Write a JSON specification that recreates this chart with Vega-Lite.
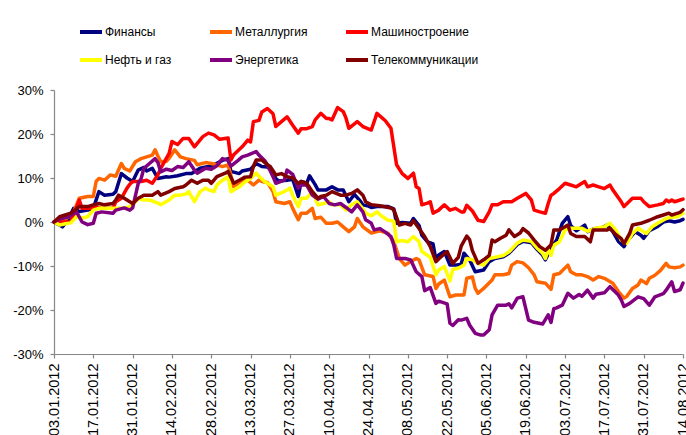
{
  "$schema": "https://vega.github.io/schema/vega-lite/v6.json",
  "width": 629,
  "height": 264,
  "autosize": {"type": "none"},
  "padding": {"left": 54, "top": 90, "right": 3, "bottom": 81},
  "background": "white",
  "config": {
    "view": {"stroke": null},
    "font": "Liberation Sans",
    "axis": {"grid": false, "domainColor": "#868686", "tickColor": "#868686", "domainWidth": 1.2, "tickWidth": 1.2, "labelColor": "#000000", "labelFont": "Liberation Sans", "title": null}
  },
  "data": {
    "format": {"parse": {"date": "date:'%Y-%m-%d'"}},
    "values": [
      {"date":"2012-01-03","series":"Финансы","value":0},
      {"date":"2012-01-06","series":"Финансы","value":-1.1},
      {"date":"2012-01-08","series":"Финансы","value":0.5},
      {"date":"2012-01-10","series":"Финансы","value":3.1},
      {"date":"2012-01-12","series":"Финансы","value":2.4},
      {"date":"2012-01-15","series":"Финансы","value":2.7},
      {"date":"2012-01-17","series":"Финансы","value":3.1},
      {"date":"2012-01-19","series":"Финансы","value":6.9},
      {"date":"2012-01-21","series":"Финансы","value":6.1},
      {"date":"2012-01-24","series":"Финансы","value":6.3},
      {"date":"2012-01-25","series":"Финансы","value":6.9},
      {"date":"2012-01-27","series":"Финансы","value":11},
      {"date":"2012-01-29","series":"Финансы","value":10},
      {"date":"2012-01-31","series":"Финансы","value":9.2},
      {"date":"2012-02-02","series":"Финансы","value":11.8},
      {"date":"2012-02-04","series":"Финансы","value":12.4},
      {"date":"2012-02-05","series":"Финансы","value":11.6},
      {"date":"2012-02-07","series":"Финансы","value":12.2},
      {"date":"2012-02-09","series":"Финансы","value":9.9},
      {"date":"2012-02-12","series":"Финансы","value":10.3},
      {"date":"2012-02-13","series":"Финансы","value":10.2},
      {"date":"2012-02-16","series":"Финансы","value":10.5},
      {"date":"2012-02-19","series":"Финансы","value":11},
      {"date":"2012-02-21","series":"Финансы","value":11},
      {"date":"2012-02-24","series":"Финансы","value":12.2},
      {"date":"2012-02-27","series":"Финансы","value":12.6},
      {"date":"2012-02-29","series":"Финансы","value":13},
      {"date":"2012-03-03","series":"Финансы","value":14},
      {"date":"2012-03-05","series":"Финансы","value":14.4},
      {"date":"2012-03-06","series":"Финансы","value":11.5},
      {"date":"2012-03-09","series":"Финансы","value":11},
      {"date":"2012-03-10","series":"Финансы","value":11.6},
      {"date":"2012-03-13","series":"Финансы","value":12},
      {"date":"2012-03-15","series":"Финансы","value":13.3},
      {"date":"2012-03-17","series":"Финансы","value":12.6},
      {"date":"2012-03-19","series":"Финансы","value":12.5},
      {"date":"2012-03-20","series":"Финансы","value":12},
      {"date":"2012-03-22","series":"Финансы","value":9.9},
      {"date":"2012-03-23","series":"Финансы","value":9.3},
      {"date":"2012-03-26","series":"Финансы","value":9.5},
      {"date":"2012-03-28","series":"Финансы","value":9.7},
      {"date":"2012-03-30","series":"Финансы","value":5.8},
      {"date":"2012-03-31","series":"Финансы","value":9.2},
      {"date":"2012-04-02","series":"Финансы","value":8.8},
      {"date":"2012-04-03","series":"Финансы","value":10.5},
      {"date":"2012-04-05","series":"Финансы","value":8.5},
      {"date":"2012-04-06","series":"Финансы","value":7.3},
      {"date":"2012-04-09","series":"Финансы","value":7.3},
      {"date":"2012-04-11","series":"Финансы","value":8},
      {"date":"2012-04-13","series":"Финансы","value":7.3},
      {"date":"2012-04-15","series":"Финансы","value":7.3},
      {"date":"2012-04-17","series":"Финансы","value":4.6},
      {"date":"2012-04-19","series":"Финансы","value":6.3},
      {"date":"2012-04-21","series":"Финансы","value":4.8},
      {"date":"2012-04-22","series":"Финансы","value":3.9},
      {"date":"2012-04-24","series":"Финансы","value":3.6},
      {"date":"2012-04-25","series":"Финансы","value":3.3},
      {"date":"2012-04-27","series":"Финансы","value":3.5},
      {"date":"2012-05-01","series":"Финансы","value":3.5},
      {"date":"2012-05-03","series":"Финансы","value":3},
      {"date":"2012-05-04","series":"Финансы","value":-0.3},
      {"date":"2012-05-06","series":"Финансы","value":-0.1},
      {"date":"2012-05-09","series":"Финансы","value":-0.3},
      {"date":"2012-05-10","series":"Финансы","value":0.8},
      {"date":"2012-05-12","series":"Финансы","value":-0.8},
      {"date":"2012-05-13","series":"Финансы","value":-3},
      {"date":"2012-05-15","series":"Финансы","value":-4.5},
      {"date":"2012-05-17","series":"Финансы","value":-5},
      {"date":"2012-05-18","series":"Финансы","value":-8.6},
      {"date":"2012-05-19","series":"Финансы","value":-7.5},
      {"date":"2012-05-21","series":"Финансы","value":-6.7},
      {"date":"2012-05-23","series":"Финансы","value":-9.8},
      {"date":"2012-05-25","series":"Финансы","value":-9.8},
      {"date":"2012-05-27","series":"Финансы","value":-9.6},
      {"date":"2012-05-28","series":"Финансы","value":-7.1},
      {"date":"2012-05-30","series":"Финансы","value":-8.6},
      {"date":"2012-06-01","series":"Финансы","value":-11.3},
      {"date":"2012-06-04","series":"Финансы","value":-10.9},
      {"date":"2012-06-06","series":"Финансы","value":-9},
      {"date":"2012-06-08","series":"Финансы","value":-8.3},
      {"date":"2012-06-11","series":"Финансы","value":-7.9},
      {"date":"2012-06-13","series":"Финансы","value":-7.1},
      {"date":"2012-06-16","series":"Финансы","value":-5.1},
      {"date":"2012-06-18","series":"Финансы","value":-4.4},
      {"date":"2012-06-21","series":"Финансы","value":-4.7},
      {"date":"2012-06-23","series":"Финансы","value":-6.2},
      {"date":"2012-06-25","series":"Финансы","value":-7.5},
      {"date":"2012-06-26","series":"Финансы","value":-8.6},
      {"date":"2012-06-28","series":"Финансы","value":-5.9},
      {"date":"2012-06-30","series":"Финансы","value":-4.1},
      {"date":"2012-07-02","series":"Финансы","value":-0.3},
      {"date":"2012-07-04","series":"Финансы","value":1.2},
      {"date":"2012-07-05","series":"Финансы","value":-0.8},
      {"date":"2012-07-07","series":"Финансы","value":-2},
      {"date":"2012-07-10","series":"Финансы","value":-0.7},
      {"date":"2012-07-11","series":"Финансы","value":-2.2},
      {"date":"2012-07-13","series":"Финансы","value":-1.6},
      {"date":"2012-07-16","series":"Финансы","value":-1.3},
      {"date":"2012-07-18","series":"Финансы","value":-0.7},
      {"date":"2012-07-20","series":"Финансы","value":-2.2},
      {"date":"2012-07-22","series":"Финансы","value":-4.4},
      {"date":"2012-07-24","series":"Финансы","value":-5.6},
      {"date":"2012-07-25","series":"Финансы","value":-4.4},
      {"date":"2012-07-28","series":"Финансы","value":-2.2},
      {"date":"2012-07-30","series":"Финансы","value":-3},
      {"date":"2012-07-31","series":"Финансы","value":-3.7},
      {"date":"2012-08-02","series":"Финансы","value":-2},
      {"date":"2012-08-05","series":"Финансы","value":-1},
      {"date":"2012-08-07","series":"Финансы","value":0},
      {"date":"2012-08-09","series":"Финансы","value":0.3},
      {"date":"2012-08-11","series":"Финансы","value":0},
      {"date":"2012-08-13","series":"Финансы","value":0.3},
      {"date":"2012-08-14","series":"Финансы","value":0.6},

      {"date":"2012-01-03","series":"Металлургия","value":0},
      {"date":"2012-01-06","series":"Металлургия","value":0},
      {"date":"2012-01-08","series":"Металлургия","value":1.1},
      {"date":"2012-01-10","series":"Металлургия","value":2.3},
      {"date":"2012-01-12","series":"Металлургия","value":5.4},
      {"date":"2012-01-15","series":"Металлургия","value":5.8},
      {"date":"2012-01-17","series":"Металлургия","value":5.8},
      {"date":"2012-01-18","series":"Металлургия","value":9.2},
      {"date":"2012-01-19","series":"Металлургия","value":9.9},
      {"date":"2012-01-21","series":"Металлургия","value":9.5},
      {"date":"2012-01-23","series":"Металлургия","value":10.7},
      {"date":"2012-01-25","series":"Металлургия","value":10.4},
      {"date":"2012-01-27","series":"Металлургия","value":13.3},
      {"date":"2012-01-28","series":"Металлургия","value":12.2},
      {"date":"2012-01-30","series":"Металлургия","value":11.6},
      {"date":"2012-02-01","series":"Металлургия","value":13.7},
      {"date":"2012-02-03","series":"Металлургия","value":14.4},
      {"date":"2012-02-05","series":"Металлургия","value":14.8},
      {"date":"2012-02-07","series":"Металлургия","value":15.2},
      {"date":"2012-02-08","series":"Металлургия","value":16.4},
      {"date":"2012-02-09","series":"Металлургия","value":15},
      {"date":"2012-02-10","series":"Металлургия","value":13.7},
      {"date":"2012-02-12","series":"Металлургия","value":13.8},
      {"date":"2012-02-13","series":"Металлургия","value":14.5},
      {"date":"2012-02-15","series":"Металлургия","value":16.4},
      {"date":"2012-02-17","series":"Металлургия","value":14.8},
      {"date":"2012-02-19","series":"Металлургия","value":14.4},
      {"date":"2012-02-22","series":"Металлургия","value":14},
      {"date":"2012-02-23","series":"Металлургия","value":13},
      {"date":"2012-02-26","series":"Металлургия","value":13.5},
      {"date":"2012-02-28","series":"Металлургия","value":13.3},
      {"date":"2012-03-01","series":"Металлургия","value":13},
      {"date":"2012-03-03","series":"Металлургия","value":12.6},
      {"date":"2012-03-05","series":"Металлургия","value":13},
      {"date":"2012-03-07","series":"Металлургия","value":8},
      {"date":"2012-03-08","series":"Металлургия","value":8.5},
      {"date":"2012-03-10","series":"Металлургия","value":9.5},
      {"date":"2012-03-12","series":"Металлургия","value":9.5},
      {"date":"2012-03-14","series":"Металлургия","value":8.4},
      {"date":"2012-03-16","series":"Металлургия","value":9.5},
      {"date":"2012-03-17","series":"Металлургия","value":9.2},
      {"date":"2012-03-19","series":"Металлургия","value":9},
      {"date":"2012-03-21","series":"Металлургия","value":6.9},
      {"date":"2012-03-22","series":"Металлургия","value":4.6},
      {"date":"2012-03-25","series":"Металлургия","value":4.2},
      {"date":"2012-03-27","series":"Металлургия","value":4.6},
      {"date":"2012-03-28","series":"Металлургия","value":3.1},
      {"date":"2012-03-30","series":"Металлургия","value":0.5},
      {"date":"2012-03-31","series":"Металлургия","value":2},
      {"date":"2012-04-02","series":"Металлургия","value":2},
      {"date":"2012-04-04","series":"Металлургия","value":3.1},
      {"date":"2012-04-05","series":"Металлургия","value":0.8},
      {"date":"2012-04-07","series":"Металлургия","value":1.1},
      {"date":"2012-04-09","series":"Металлургия","value":-0.3},
      {"date":"2012-04-11","series":"Металлургия","value":-0.3},
      {"date":"2012-04-13","series":"Металлургия","value":0},
      {"date":"2012-04-15","series":"Металлургия","value":-1.1},
      {"date":"2012-04-17","series":"Металлургия","value":-2.2},
      {"date":"2012-04-19","series":"Металлургия","value":-1.1},
      {"date":"2012-04-20","series":"Металлургия","value":0.8},
      {"date":"2012-04-22","series":"Металлургия","value":-1.1},
      {"date":"2012-04-25","series":"Металлургия","value":-2.5},
      {"date":"2012-04-28","series":"Металлургия","value":-2},
      {"date":"2012-05-01","series":"Металлургия","value":-2.6},
      {"date":"2012-05-03","series":"Металлургия","value":-4.5},
      {"date":"2012-05-05","series":"Металлургия","value":-8.3},
      {"date":"2012-05-07","series":"Металлургия","value":-9.8},
      {"date":"2012-05-09","series":"Металлургия","value":-9},
      {"date":"2012-05-11","series":"Металлургия","value":-8.3},
      {"date":"2012-05-12","series":"Металлургия","value":-8.6},
      {"date":"2012-05-14","series":"Металлургия","value":-12},
      {"date":"2012-05-17","series":"Металлургия","value":-12.4},
      {"date":"2012-05-18","series":"Металлургия","value":-15.1},
      {"date":"2012-05-19","series":"Металлургия","value":-14.1},
      {"date":"2012-05-21","series":"Металлургия","value":-13.2},
      {"date":"2012-05-23","series":"Металлургия","value":-17},
      {"date":"2012-05-25","series":"Металлургия","value":-16.6},
      {"date":"2012-05-28","series":"Металлургия","value":-16.6},
      {"date":"2012-05-29","series":"Металлургия","value":-12.8},
      {"date":"2012-05-31","series":"Металлургия","value":-12.5},
      {"date":"2012-06-01","series":"Металлургия","value":-15.1},
      {"date":"2012-06-02","series":"Металлургия","value":-16.2},
      {"date":"2012-06-04","series":"Металлургия","value":-15.1},
      {"date":"2012-06-07","series":"Металлургия","value":-13.2},
      {"date":"2012-06-08","series":"Металлургия","value":-12},
      {"date":"2012-06-11","series":"Металлургия","value":-12},
      {"date":"2012-06-13","series":"Металлургия","value":-11.7},
      {"date":"2012-06-14","series":"Металлургия","value":-9.8},
      {"date":"2012-06-16","series":"Металлургия","value":-9},
      {"date":"2012-06-18","series":"Металлургия","value":-9.3},
      {"date":"2012-06-20","series":"Металлургия","value":-10.4},
      {"date":"2012-06-22","series":"Металлургия","value":-12},
      {"date":"2012-06-23","series":"Металлургия","value":-13.6},
      {"date":"2012-06-26","series":"Металлургия","value":-13.9},
      {"date":"2012-06-28","series":"Металлургия","value":-15.3},
      {"date":"2012-06-29","series":"Металлургия","value":-12},
      {"date":"2012-07-01","series":"Металлургия","value":-11.7},
      {"date":"2012-07-04","series":"Металлургия","value":-9.8},
      {"date":"2012-07-05","series":"Металлургия","value":-11.3},
      {"date":"2012-07-07","series":"Металлургия","value":-12},
      {"date":"2012-07-09","series":"Металлургия","value":-12},
      {"date":"2012-07-11","series":"Металлургия","value":-12.4},
      {"date":"2012-07-13","series":"Металлургия","value":-13.2},
      {"date":"2012-07-15","series":"Металлургия","value":-12.4},
      {"date":"2012-07-17","series":"Металлургия","value":-12.8},
      {"date":"2012-07-20","series":"Металлургия","value":-13.9},
      {"date":"2012-07-22","series":"Металлургия","value":-15.8},
      {"date":"2012-07-24","series":"Металлургия","value":-17.3},
      {"date":"2012-07-25","series":"Металлургия","value":-16.9},
      {"date":"2012-07-27","series":"Металлургия","value":-15.1},
      {"date":"2012-07-29","series":"Металлургия","value":-14.3},
      {"date":"2012-07-30","series":"Металлургия","value":-13.2},
      {"date":"2012-08-01","series":"Металлургия","value":-14},
      {"date":"2012-08-02","series":"Металлургия","value":-12.8},
      {"date":"2012-08-04","series":"Металлургия","value":-12.1},
      {"date":"2012-08-06","series":"Металлургия","value":-11},
      {"date":"2012-08-08","series":"Металлургия","value":-9.4},
      {"date":"2012-08-09","series":"Металлургия","value":-10.2},
      {"date":"2012-08-11","series":"Металлургия","value":-10.4},
      {"date":"2012-08-13","series":"Металлургия","value":-10.2},
      {"date":"2012-08-14","series":"Металлургия","value":-9.8},

      {"date":"2012-01-03","series":"Машиностроение","value":0},
      {"date":"2012-01-06","series":"Машиностроение","value":0},
      {"date":"2012-01-09","series":"Машиностроение","value":0},
      {"date":"2012-01-10","series":"Машиностроение","value":1.5},
      {"date":"2012-01-12","series":"Машиностроение","value":5},
      {"date":"2012-01-13","series":"Машиностроение","value":3.1},
      {"date":"2012-01-16","series":"Машиностроение","value":3.1},
      {"date":"2012-01-18","series":"Машиностроение","value":3.4},
      {"date":"2012-01-20","series":"Машиностроение","value":3.1},
      {"date":"2012-01-24","series":"Машиностроение","value":3.1},
      {"date":"2012-01-25","series":"Машиностроение","value":4.6},
      {"date":"2012-01-27","series":"Машиностроение","value":5.4},
      {"date":"2012-01-29","series":"Машиностроение","value":7.7},
      {"date":"2012-01-30","series":"Машиностроение","value":8.6},
      {"date":"2012-01-31","series":"Машиностроение","value":9.2},
      {"date":"2012-02-03","series":"Машиностроение","value":9.2},
      {"date":"2012-02-05","series":"Машиностроение","value":9.5},
      {"date":"2012-02-07","series":"Машиностроение","value":8.8},
      {"date":"2012-02-09","series":"Машиностроение","value":10.7},
      {"date":"2012-02-10","series":"Машиностроение","value":12.2},
      {"date":"2012-02-13","series":"Машиностроение","value":15.6},
      {"date":"2012-02-14","series":"Машиностроение","value":18.3},
      {"date":"2012-02-16","series":"Машиностроение","value":17.6},
      {"date":"2012-02-18","series":"Машиностроение","value":19},
      {"date":"2012-02-20","series":"Машиностроение","value":19},
      {"date":"2012-02-22","series":"Машиностроение","value":17.1},
      {"date":"2012-02-25","series":"Машиностроение","value":19.4},
      {"date":"2012-02-27","series":"Машиностроение","value":20.2},
      {"date":"2012-02-29","series":"Машиностроение","value":19.8},
      {"date":"2012-03-02","series":"Машиностроение","value":18.8},
      {"date":"2012-03-05","series":"Машиностроение","value":19.1},
      {"date":"2012-03-06","series":"Машиностроение","value":14.1},
      {"date":"2012-03-07","series":"Машиностроение","value":15.3},
      {"date":"2012-03-10","series":"Машиностроение","value":17.1},
      {"date":"2012-03-12","series":"Машиностроение","value":18.6},
      {"date":"2012-03-13","series":"Машиностроение","value":18.2},
      {"date":"2012-03-14","series":"Машиностроение","value":22.8},
      {"date":"2012-03-16","series":"Машиностроение","value":23.1},
      {"date":"2012-03-17","series":"Машиностроение","value":25},
      {"date":"2012-03-19","series":"Машиностроение","value":25.8},
      {"date":"2012-03-21","series":"Машиностроение","value":24.6},
      {"date":"2012-03-22","series":"Машиностроение","value":21.7},
      {"date":"2012-03-24","series":"Машиностроение","value":22.8},
      {"date":"2012-03-26","series":"Машиностроение","value":23.9},
      {"date":"2012-03-28","series":"Машиностроение","value":22},
      {"date":"2012-03-30","series":"Машиностроение","value":20.2},
      {"date":"2012-03-31","series":"Машиностроение","value":21.2},
      {"date":"2012-04-02","series":"Машиностроение","value":21.2},
      {"date":"2012-04-04","series":"Машиностроение","value":21.7},
      {"date":"2012-04-05","series":"Машиностроение","value":23.2},
      {"date":"2012-04-07","series":"Машиностроение","value":24.7},
      {"date":"2012-04-09","series":"Машиностроение","value":23.5},
      {"date":"2012-04-10","series":"Машиностроение","value":23.5},
      {"date":"2012-04-11","series":"Машиностроение","value":23.2},
      {"date":"2012-04-13","series":"Машиностроение","value":26},
      {"date":"2012-04-15","series":"Машиностроение","value":25.1},
      {"date":"2012-04-16","series":"Машиностроение","value":23.6},
      {"date":"2012-04-17","series":"Машиностроение","value":21.3},
      {"date":"2012-04-20","series":"Машиностроение","value":22.8},
      {"date":"2012-04-22","series":"Машиностроение","value":21.7},
      {"date":"2012-04-25","series":"Машиностроение","value":20.9},
      {"date":"2012-04-27","series":"Машиностроение","value":24.7},
      {"date":"2012-04-30","series":"Машиностроение","value":23},
      {"date":"2012-05-02","series":"Машиностроение","value":21.3},
      {"date":"2012-05-04","series":"Машиностроение","value":13},
      {"date":"2012-05-06","series":"Машиностроение","value":11},
      {"date":"2012-05-08","series":"Машиностроение","value":9.9},
      {"date":"2012-05-10","series":"Машиностроение","value":11.1},
      {"date":"2012-05-11","series":"Машиностроение","value":8},
      {"date":"2012-05-12","series":"Машиностроение","value":7.6},
      {"date":"2012-05-13","series":"Машиностроение","value":3.9},
      {"date":"2012-05-15","series":"Машиностроение","value":4.3},
      {"date":"2012-05-16","series":"Машиностроение","value":4.6},
      {"date":"2012-05-17","series":"Машиностроение","value":2},
      {"date":"2012-05-19","series":"Машиностроение","value":2.7},
      {"date":"2012-05-21","series":"Машиностроение","value":3.9},
      {"date":"2012-05-23","series":"Машиностроение","value":2.7},
      {"date":"2012-05-25","series":"Машиностроение","value":3.1},
      {"date":"2012-05-27","series":"Машиностроение","value":2.3},
      {"date":"2012-05-28","series":"Машиностроение","value":2.3},
      {"date":"2012-05-29","series":"Машиностроение","value":3.8},
      {"date":"2012-05-31","series":"Машиностроение","value":2.5},
      {"date":"2012-06-02","series":"Машиностроение","value":0.4},
      {"date":"2012-06-04","series":"Машиностроение","value":0.1},
      {"date":"2012-06-06","series":"Машиностроение","value":2.3},
      {"date":"2012-06-07","series":"Машиностроение","value":3.9},
      {"date":"2012-06-09","series":"Машиностроение","value":3.9},
      {"date":"2012-06-11","series":"Машиностроение","value":4.6},
      {"date":"2012-06-14","series":"Машиностроение","value":4.6},
      {"date":"2012-06-16","series":"Машиностроение","value":5.4},
      {"date":"2012-06-19","series":"Машиностроение","value":6.5},
      {"date":"2012-06-21","series":"Машиностроение","value":5},
      {"date":"2012-06-22","series":"Машиностроение","value":2.7},
      {"date":"2012-06-24","series":"Машиностроение","value":2.3},
      {"date":"2012-06-26","series":"Машиностроение","value":2},
      {"date":"2012-06-27","series":"Машиностроение","value":4.2},
      {"date":"2012-06-28","series":"Машиностроение","value":6.1},
      {"date":"2012-06-29","series":"Машиностроение","value":6.5},
      {"date":"2012-07-01","series":"Машиностроение","value":7.6},
      {"date":"2012-07-03","series":"Машиностроение","value":8.8},
      {"date":"2012-07-05","series":"Машиностроение","value":8.4},
      {"date":"2012-07-07","series":"Машиностроение","value":8},
      {"date":"2012-07-09","series":"Машиностроение","value":8.8},
      {"date":"2012-07-10","series":"Машиностроение","value":9.2},
      {"date":"2012-07-11","series":"Машиностроение","value":8},
      {"date":"2012-07-13","series":"Машиностроение","value":8.4},
      {"date":"2012-07-15","series":"Машиностроение","value":8},
      {"date":"2012-07-17","series":"Машиностроение","value":7.6},
      {"date":"2012-07-19","series":"Машиностроение","value":8.4},
      {"date":"2012-07-20","series":"Машиностроение","value":7.3},
      {"date":"2012-07-23","series":"Машиностроение","value":4.6},
      {"date":"2012-07-24","series":"Машиностроение","value":3.5},
      {"date":"2012-07-27","series":"Машиностроение","value":5.4},
      {"date":"2012-07-30","series":"Машиностроение","value":5.4},
      {"date":"2012-07-31","series":"Машиностроение","value":4.6},
      {"date":"2012-08-02","series":"Машиностроение","value":3.5},
      {"date":"2012-08-05","series":"Машиностроение","value":3.9},
      {"date":"2012-08-07","series":"Машиностроение","value":4.2},
      {"date":"2012-08-08","series":"Машиностроение","value":5},
      {"date":"2012-08-09","series":"Машиностроение","value":4.6},
      {"date":"2012-08-10","series":"Машиностроение","value":5},
      {"date":"2012-08-11","series":"Машиностроение","value":4.6},
      {"date":"2012-08-13","series":"Машиностроение","value":5},
      {"date":"2012-08-14","series":"Машиностроение","value":5.2},

      {"date":"2012-01-03","series":"Нефть и газ","value":0},
      {"date":"2012-01-05","series":"Нефть и газ","value":-0.7},
      {"date":"2012-01-07","series":"Нефть и газ","value":-0.4},
      {"date":"2012-01-09","series":"Нефть и газ","value":-0.2},
      {"date":"2012-01-11","series":"Нефть и газ","value":1.2},
      {"date":"2012-01-13","series":"Нефть и газ","value":0.9},
      {"date":"2012-01-15","series":"Нефть и газ","value":1.2},
      {"date":"2012-01-17","series":"Нефть и газ","value":2.7},
      {"date":"2012-01-19","series":"Нефть и газ","value":3.1},
      {"date":"2012-01-23","series":"Нефть и газ","value":3.1},
      {"date":"2012-01-26","series":"Нефть и газ","value":3.1},
      {"date":"2012-01-28","series":"Нефть и газ","value":3.1},
      {"date":"2012-01-31","series":"Нефть и газ","value":3.8},
      {"date":"2012-02-02","series":"Нефть и газ","value":5.4},
      {"date":"2012-02-04","series":"Нефть и газ","value":5},
      {"date":"2012-02-06","series":"Нефть и газ","value":5},
      {"date":"2012-02-09","series":"Нефть и газ","value":4.3},
      {"date":"2012-02-10","series":"Нефть и газ","value":3.9},
      {"date":"2012-02-13","series":"Нефть и газ","value":5},
      {"date":"2012-02-15","series":"Нефть и газ","value":6.1},
      {"date":"2012-02-17","series":"Нефть и газ","value":6.1},
      {"date":"2012-02-19","series":"Нефть и газ","value":6.4},
      {"date":"2012-02-20","series":"Нефть и газ","value":6.9},
      {"date":"2012-02-22","series":"Нефть и газ","value":4.6},
      {"date":"2012-02-24","series":"Нефть и газ","value":6.9},
      {"date":"2012-02-26","series":"Нефть и газ","value":7.7},
      {"date":"2012-02-27","series":"Нефть и газ","value":7.3},
      {"date":"2012-02-29","series":"Нефть и газ","value":6.9},
      {"date":"2012-03-01","series":"Нефть и газ","value":8.4},
      {"date":"2012-03-03","series":"Нефть и газ","value":9.5},
      {"date":"2012-03-05","series":"Нефть и газ","value":10.3},
      {"date":"2012-03-06","series":"Нефть и газ","value":6.9},
      {"date":"2012-03-09","series":"Нефть и газ","value":8},
      {"date":"2012-03-11","series":"Нефть и газ","value":9.1},
      {"date":"2012-03-13","series":"Нефть и газ","value":9.9},
      {"date":"2012-03-15","series":"Нефть и газ","value":11.1},
      {"date":"2012-03-16","series":"Нефть и газ","value":10.4},
      {"date":"2012-03-18","series":"Нефть и газ","value":9.2},
      {"date":"2012-03-21","series":"Нефть и газ","value":8},
      {"date":"2012-03-22","series":"Нефть и газ","value":6.1},
      {"date":"2012-03-25","series":"Нефть и газ","value":6.9},
      {"date":"2012-03-27","series":"Нефть и газ","value":7.7},
      {"date":"2012-03-28","series":"Нефть и газ","value":6.1},
      {"date":"2012-03-30","series":"Нефть и газ","value":3.5},
      {"date":"2012-03-31","series":"Нефть и газ","value":5.4},
      {"date":"2012-04-02","series":"Нефть и газ","value":5.4},
      {"date":"2012-04-04","series":"Нефть и газ","value":6.9},
      {"date":"2012-04-06","series":"Нефть и газ","value":3.9},
      {"date":"2012-04-08","series":"Нефть и газ","value":4.2},
      {"date":"2012-04-10","series":"Нефть и газ","value":4.6},
      {"date":"2012-04-11","series":"Нефть и газ","value":3.9},
      {"date":"2012-04-14","series":"Нефть и газ","value":3.9},
      {"date":"2012-04-16","series":"Нефть и газ","value":2.7},
      {"date":"2012-04-18","series":"Нефть и газ","value":3.9},
      {"date":"2012-04-20","series":"Нефть и газ","value":4.6},
      {"date":"2012-04-22","series":"Нефть и газ","value":3},
      {"date":"2012-04-23","series":"Нефть и газ","value":2},
      {"date":"2012-04-25","series":"Нефть и газ","value":1.4},
      {"date":"2012-04-27","series":"Нефть и газ","value":2.3},
      {"date":"2012-04-29","series":"Нефть и газ","value":1.2},
      {"date":"2012-05-01","series":"Нефть и газ","value":0.4},
      {"date":"2012-05-03","series":"Нефть и газ","value":0.2},
      {"date":"2012-05-04","series":"Нефть и газ","value":-4.5},
      {"date":"2012-05-06","series":"Нефть и газ","value":-4.2},
      {"date":"2012-05-08","series":"Нефть и газ","value":-4.5},
      {"date":"2012-05-10","series":"Нефть и газ","value":-3.3},
      {"date":"2012-05-12","series":"Нефть и газ","value":-4.5},
      {"date":"2012-05-13","series":"Нефть и газ","value":-6.7},
      {"date":"2012-05-16","series":"Нефть и газ","value":-8},
      {"date":"2012-05-18","series":"Нефть и газ","value":-12},
      {"date":"2012-05-19","series":"Нефть и газ","value":-10.9},
      {"date":"2012-05-21","series":"Нефть и газ","value":-10.1},
      {"date":"2012-05-23","series":"Нефть и газ","value":-13.4},
      {"date":"2012-05-24","series":"Нефть и газ","value":-10.8},
      {"date":"2012-05-26","series":"Нефть и газ","value":-10.5},
      {"date":"2012-05-28","series":"Нефть и газ","value":-9.8},
      {"date":"2012-05-29","series":"Нефть и газ","value":-8.3},
      {"date":"2012-05-31","series":"Нефть и газ","value":-8.6},
      {"date":"2012-06-02","series":"Нефть и газ","value":-9.4},
      {"date":"2012-06-04","series":"Нефть и газ","value":-9.8},
      {"date":"2012-06-06","series":"Нефть и газ","value":-8.3},
      {"date":"2012-06-09","series":"Нефть и газ","value":-7.9},
      {"date":"2012-06-11","series":"Нефть и газ","value":-7.6},
      {"date":"2012-06-13","series":"Нефть и газ","value":-6.8},
      {"date":"2012-06-16","series":"Нефть и газ","value":-4.8},
      {"date":"2012-06-18","series":"Нефть и газ","value":-4.1},
      {"date":"2012-06-21","series":"Нефть и газ","value":-4.4},
      {"date":"2012-06-23","series":"Нефть и газ","value":-5.9},
      {"date":"2012-06-25","series":"Нефть и газ","value":-7.1},
      {"date":"2012-06-26","series":"Нефть и газ","value":-8.3},
      {"date":"2012-06-27","series":"Нефть и газ","value":-6.1},
      {"date":"2012-06-28","series":"Нефть и газ","value":-7.6},
      {"date":"2012-06-29","series":"Нефть и газ","value":-5.3},
      {"date":"2012-07-01","series":"Нефть и газ","value":-4.5},
      {"date":"2012-07-03","series":"Нефть и газ","value":-1.8},
      {"date":"2012-07-05","series":"Нефть и газ","value":-1.4},
      {"date":"2012-07-07","series":"Нефть и газ","value":-1.4},
      {"date":"2012-07-09","series":"Нефть и газ","value":-1.4},
      {"date":"2012-07-11","series":"Нефть и газ","value":-2.1},
      {"date":"2012-07-14","series":"Нефть и газ","value":-1.4},
      {"date":"2012-07-17","series":"Нефть и газ","value":-1.1},
      {"date":"2012-07-19","series":"Нефть и газ","value":-0.3},
      {"date":"2012-07-21","series":"Нефть и газ","value":-1.8},
      {"date":"2012-07-23","series":"Нефть и газ","value":-4.1},
      {"date":"2012-07-25","series":"Нефть и газ","value":-4.8},
      {"date":"2012-07-27","series":"Нефть и газ","value":-2.6},
      {"date":"2012-07-29","series":"Нефть и газ","value":-1.4},
      {"date":"2012-07-30","series":"Нефть и газ","value":-1.8},
      {"date":"2012-08-01","series":"Нефть и газ","value":-2.6},
      {"date":"2012-08-03","series":"Нефть и газ","value":-1.1},
      {"date":"2012-08-05","series":"Нефть и газ","value":-0.3},
      {"date":"2012-08-08","series":"Нефть и газ","value":0.8},
      {"date":"2012-08-10","series":"Нефть и газ","value":1.1},
      {"date":"2012-08-12","series":"Нефть и газ","value":1.2},
      {"date":"2012-08-14","series":"Нефть и газ","value":2},

      {"date":"2012-01-03","series":"Энергетика","value":0},
      {"date":"2012-01-05","series":"Энергетика","value":0.7},
      {"date":"2012-01-08","series":"Энергетика","value":1.1},
      {"date":"2012-01-09","series":"Энергетика","value":1.6},
      {"date":"2012-01-11","series":"Энергетика","value":2.3},
      {"date":"2012-01-13","series":"Энергетика","value":0},
      {"date":"2012-01-15","series":"Энергетика","value":-0.6},
      {"date":"2012-01-17","series":"Энергетика","value":-0.3},
      {"date":"2012-01-18","series":"Энергетика","value":2},
      {"date":"2012-01-20","series":"Энергетика","value":2.3},
      {"date":"2012-01-24","series":"Энергетика","value":2},
      {"date":"2012-01-25","series":"Энергетика","value":2.7},
      {"date":"2012-01-28","series":"Энергетика","value":3.2},
      {"date":"2012-01-30","series":"Энергетика","value":2.7},
      {"date":"2012-01-31","series":"Энергетика","value":3.2},
      {"date":"2012-02-02","series":"Энергетика","value":8.8},
      {"date":"2012-02-03","series":"Энергетика","value":9.8},
      {"date":"2012-02-04","series":"Энергетика","value":12.2},
      {"date":"2012-02-06","series":"Энергетика","value":13.3},
      {"date":"2012-02-08","series":"Энергетика","value":14.4},
      {"date":"2012-02-09","series":"Энергетика","value":13.5},
      {"date":"2012-02-10","series":"Энергетика","value":11.4},
      {"date":"2012-02-12","series":"Энергетика","value":12},
      {"date":"2012-02-14","series":"Энергетика","value":11.7},
      {"date":"2012-02-16","series":"Энергетика","value":12.6},
      {"date":"2012-02-18","series":"Энергетика","value":12.4},
      {"date":"2012-02-20","series":"Энергетика","value":13.7},
      {"date":"2012-02-22","series":"Энергетика","value":11.8},
      {"date":"2012-02-23","series":"Энергетика","value":11.1},
      {"date":"2012-02-26","series":"Энергетика","value":12.2},
      {"date":"2012-02-28","series":"Энергетика","value":12},
      {"date":"2012-03-01","series":"Энергетика","value":12.8},
      {"date":"2012-03-03","series":"Энергетика","value":14.4},
      {"date":"2012-03-05","series":"Энергетика","value":14},
      {"date":"2012-03-06","series":"Энергетика","value":12.7},
      {"date":"2012-03-08","series":"Энергетика","value":13.7},
      {"date":"2012-03-10","series":"Энергетика","value":14.8},
      {"date":"2012-03-12","series":"Энергетика","value":15.2},
      {"date":"2012-03-15","series":"Энергетика","value":16},
      {"date":"2012-03-16","series":"Энергетика","value":15.2},
      {"date":"2012-03-18","series":"Энергетика","value":14},
      {"date":"2012-03-19","series":"Энергетика","value":13},
      {"date":"2012-03-21","series":"Энергетика","value":10.3},
      {"date":"2012-03-22","series":"Энергетика","value":8.8},
      {"date":"2012-03-25","series":"Энергетика","value":9.5},
      {"date":"2012-03-26","series":"Энергетика","value":11.8},
      {"date":"2012-03-28","series":"Энергетика","value":10.8},
      {"date":"2012-03-30","series":"Энергетика","value":7.7},
      {"date":"2012-03-31","series":"Энергетика","value":8.4},
      {"date":"2012-04-02","series":"Энергетика","value":8.4},
      {"date":"2012-04-04","series":"Энергетика","value":6.1},
      {"date":"2012-04-06","series":"Энергетика","value":5.2},
      {"date":"2012-04-08","series":"Энергетика","value":5.8},
      {"date":"2012-04-10","series":"Энергетика","value":4.2},
      {"date":"2012-04-12","series":"Энергетика","value":3.9},
      {"date":"2012-04-14","series":"Энергетика","value":4.2},
      {"date":"2012-04-16","series":"Энергетика","value":3.3},
      {"date":"2012-04-18","series":"Энергетика","value":2.3},
      {"date":"2012-04-20","series":"Энергетика","value":3.9},
      {"date":"2012-04-22","series":"Энергетика","value":2.3},
      {"date":"2012-04-23","series":"Энергетика","value":0.5},
      {"date":"2012-04-25","series":"Энергетика","value":-0.3},
      {"date":"2012-04-26","series":"Энергетика","value":-1.8},
      {"date":"2012-04-28","series":"Энергетика","value":-1.5},
      {"date":"2012-04-30","series":"Энергетика","value":-2.3},
      {"date":"2012-05-02","series":"Энергетика","value":-3.3},
      {"date":"2012-05-03","series":"Энергетика","value":-5.2},
      {"date":"2012-05-04","series":"Энергетика","value":-8.3},
      {"date":"2012-05-07","series":"Энергетика","value":-8.3},
      {"date":"2012-05-09","series":"Энергетика","value":-8.6},
      {"date":"2012-05-11","series":"Энергетика","value":-11.3},
      {"date":"2012-05-13","series":"Энергетика","value":-12.4},
      {"date":"2012-05-14","series":"Энергетика","value":-15.6},
      {"date":"2012-05-16","series":"Энергетика","value":-14.9},
      {"date":"2012-05-18","series":"Энергетика","value":-18.5},
      {"date":"2012-05-19","series":"Энергетика","value":-18},
      {"date":"2012-05-22","series":"Энергетика","value":-18.6},
      {"date":"2012-05-23","series":"Энергетика","value":-23},
      {"date":"2012-05-24","series":"Энергетика","value":-23.5},
      {"date":"2012-05-26","series":"Энергетика","value":-22.2},
      {"date":"2012-05-27","series":"Энергетика","value":-22.3},
      {"date":"2012-05-29","series":"Энергетика","value":-21.9},
      {"date":"2012-05-30","series":"Энергетика","value":-23.4},
      {"date":"2012-06-01","series":"Энергетика","value":-25.3},
      {"date":"2012-06-03","series":"Энергетика","value":-25.7},
      {"date":"2012-06-04","series":"Энергетика","value":-25.7},
      {"date":"2012-06-06","series":"Энергетика","value":-24.5},
      {"date":"2012-06-07","series":"Энергетика","value":-21.1},
      {"date":"2012-06-09","series":"Энергетика","value":-18.9},
      {"date":"2012-06-12","series":"Энергетика","value":-18.9},
      {"date":"2012-06-13","series":"Энергетика","value":-18.6},
      {"date":"2012-06-14","series":"Энергетика","value":-19.5},
      {"date":"2012-06-16","series":"Энергетика","value":-17.3},
      {"date":"2012-06-18","series":"Энергетика","value":-17},
      {"date":"2012-06-20","series":"Энергетика","value":-22.3},
      {"date":"2012-06-22","series":"Энергетика","value":-22.8},
      {"date":"2012-06-25","series":"Энергетика","value":-23.2},
      {"date":"2012-06-27","series":"Энергетика","value":-21.1},
      {"date":"2012-06-28","series":"Энергетика","value":-22.8},
      {"date":"2012-06-29","series":"Энергетика","value":-19.7},
      {"date":"2012-06-30","series":"Энергетика","value":-19.5},
      {"date":"2012-07-02","series":"Энергетика","value":-18.9},
      {"date":"2012-07-04","series":"Энергетика","value":-16.2},
      {"date":"2012-07-06","series":"Энергетика","value":-17.3},
      {"date":"2012-07-08","series":"Энергетика","value":-16.5},
      {"date":"2012-07-09","series":"Энергетика","value":-16.9},
      {"date":"2012-07-11","series":"Энергетика","value":-15.5},
      {"date":"2012-07-13","series":"Энергетика","value":-17.3},
      {"date":"2012-07-14","series":"Энергетика","value":-16.4},
      {"date":"2012-07-17","series":"Энергетика","value":-16.1},
      {"date":"2012-07-19","series":"Энергетика","value":-14.7},
      {"date":"2012-07-22","series":"Энергетика","value":-16.6},
      {"date":"2012-07-23","series":"Энергетика","value":-17.7},
      {"date":"2012-07-24","series":"Энергетика","value":-19.2},
      {"date":"2012-07-26","series":"Энергетика","value":-18.5},
      {"date":"2012-07-29","series":"Энергетика","value":-17},
      {"date":"2012-07-31","series":"Энергетика","value":-17.4},
      {"date":"2012-08-02","series":"Энергетика","value":-18.9},
      {"date":"2012-08-04","series":"Энергетика","value":-17},
      {"date":"2012-08-07","series":"Энергетика","value":-16.3},
      {"date":"2012-08-08","series":"Энергетика","value":-15.5},
      {"date":"2012-08-10","series":"Энергетика","value":-13.6},
      {"date":"2012-08-11","series":"Энергетика","value":-15.8},
      {"date":"2012-08-13","series":"Энергетика","value":-15.4},
      {"date":"2012-08-14","series":"Энергетика","value":-13.9},

      {"date":"2012-01-03","series":"Телекоммуникации","value":0},
      {"date":"2012-01-05","series":"Телекоммуникации","value":1.2},
      {"date":"2012-01-07","series":"Телекоммуникации","value":1.6},
      {"date":"2012-01-09","series":"Телекоммуникации","value":2},
      {"date":"2012-01-12","series":"Телекоммуникации","value":3.5},
      {"date":"2012-01-15","series":"Телекоммуникации","value":3.5},
      {"date":"2012-01-17","series":"Телекоммуникации","value":3.9},
      {"date":"2012-01-19","series":"Телекоммуникации","value":4.2},
      {"date":"2012-01-21","series":"Телекоммуникации","value":3.9},
      {"date":"2012-01-24","series":"Телекоммуникации","value":4.2},
      {"date":"2012-01-25","series":"Телекоммуникации","value":5},
      {"date":"2012-01-26","series":"Телекоммуникации","value":6.1},
      {"date":"2012-01-28","series":"Телекоммуникации","value":5.4},
      {"date":"2012-01-31","series":"Телекоммуникации","value":4.2},
      {"date":"2012-02-02","series":"Телекоммуникации","value":5.4},
      {"date":"2012-02-04","series":"Телекоммуникации","value":6.1},
      {"date":"2012-02-07","series":"Телекоммуникации","value":6.1},
      {"date":"2012-02-09","series":"Телекоммуникации","value":6.9},
      {"date":"2012-02-10","series":"Телекоммуникации","value":6.1},
      {"date":"2012-02-13","series":"Телекоммуникации","value":6.9},
      {"date":"2012-02-15","series":"Телекоммуникации","value":7.6},
      {"date":"2012-02-18","series":"Телекоммуникации","value":8},
      {"date":"2012-02-19","series":"Телекоммуникации","value":8.4},
      {"date":"2012-02-21","series":"Телекоммуникации","value":9.5},
      {"date":"2012-02-23","series":"Телекоммуникации","value":8.8},
      {"date":"2012-02-25","series":"Телекоммуникации","value":9.5},
      {"date":"2012-02-27","series":"Телекоммуникации","value":9.5},
      {"date":"2012-02-28","series":"Телекоммуникации","value":8.8},
      {"date":"2012-03-01","series":"Телекоммуникации","value":10.3},
      {"date":"2012-03-04","series":"Телекоммуникации","value":11.1},
      {"date":"2012-03-05","series":"Телекоммуникации","value":11.5},
      {"date":"2012-03-07","series":"Телекоммуникации","value":8.8},
      {"date":"2012-03-09","series":"Телекоммуникации","value":9.5},
      {"date":"2012-03-11","series":"Телекоммуникации","value":10.2},
      {"date":"2012-03-13","series":"Телекоммуникации","value":10.3},
      {"date":"2012-03-14","series":"Телекоммуникации","value":12.6},
      {"date":"2012-03-15","series":"Телекоммуникации","value":14.1},
      {"date":"2012-03-17","series":"Телекоммуникации","value":14.1},
      {"date":"2012-03-19","series":"Телекоммуникации","value":13},
      {"date":"2012-03-20","series":"Телекоммуникации","value":12.6},
      {"date":"2012-03-22","series":"Телекоммуникации","value":10.7},
      {"date":"2012-03-24","series":"Телекоммуникации","value":11},
      {"date":"2012-03-26","series":"Телекоммуникации","value":10.3},
      {"date":"2012-03-28","series":"Телекоммуникации","value":10},
      {"date":"2012-03-30","series":"Телекоммуникации","value":8.8},
      {"date":"2012-03-31","series":"Телекоммуникации","value":9.2},
      {"date":"2012-04-02","series":"Телекоммуникации","value":8.8},
      {"date":"2012-04-04","series":"Телекоммуникации","value":6.9},
      {"date":"2012-04-06","series":"Телекоммуникации","value":5.4},
      {"date":"2012-04-07","series":"Телекоммуникации","value":5.8},
      {"date":"2012-04-09","series":"Телекоммуникации","value":6.1},
      {"date":"2012-04-11","series":"Телекоммуникации","value":6.9},
      {"date":"2012-04-14","series":"Телекоммуникации","value":6.1},
      {"date":"2012-04-16","series":"Телекоммуникации","value":6.1},
      {"date":"2012-04-18","series":"Телекоммуникации","value":6.5},
      {"date":"2012-04-20","series":"Телекоммуникации","value":7.3},
      {"date":"2012-04-22","series":"Телекоммуникации","value":6.1},
      {"date":"2012-04-23","series":"Телекоммуникации","value":4.6},
      {"date":"2012-04-25","series":"Телекоммуникации","value":3.9},
      {"date":"2012-04-28","series":"Телекоммуникации","value":3.7},
      {"date":"2012-05-02","series":"Телекоммуникации","value":3.2},
      {"date":"2012-05-03","series":"Телекоммуникации","value":2.8},
      {"date":"2012-05-05","series":"Телекоммуникации","value":-0.7},
      {"date":"2012-05-07","series":"Телекоммуникации","value":-0.3},
      {"date":"2012-05-09","series":"Телекоммуникации","value":-0.7},
      {"date":"2012-05-10","series":"Телекоммуникации","value":0.3},
      {"date":"2012-05-12","series":"Телекоммуникации","value":-1.5},
      {"date":"2012-05-14","series":"Телекоммуникации","value":-3.3},
      {"date":"2012-05-16","series":"Телекоммуникации","value":-5.6},
      {"date":"2012-05-18","series":"Телекоммуникации","value":-9},
      {"date":"2012-05-20","series":"Телекоммуникации","value":-7.8},
      {"date":"2012-05-22","series":"Телекоммуникации","value":-6.7},
      {"date":"2012-05-24","series":"Телекоммуникации","value":-9.4},
      {"date":"2012-05-26","series":"Телекоммуникации","value":-8},
      {"date":"2012-05-27","series":"Телекоммуникации","value":-5.5},
      {"date":"2012-05-29","series":"Телекоммуникации","value":-3.2},
      {"date":"2012-05-30","series":"Телекоммуникации","value":-4},
      {"date":"2012-05-31","series":"Телекоммуникации","value":-6.5},
      {"date":"2012-06-02","series":"Телекоммуникации","value":-9.4},
      {"date":"2012-06-04","series":"Телекоммуникации","value":-8.6},
      {"date":"2012-06-06","series":"Телекоммуникации","value":-7.6},
      {"date":"2012-06-07","series":"Телекоммуникации","value":-4.1},
      {"date":"2012-06-08","series":"Телекоммуникации","value":-4.5},
      {"date":"2012-06-10","series":"Телекоммуникации","value":-3.7},
      {"date":"2012-06-12","series":"Телекоммуникации","value":-3},
      {"date":"2012-06-13","series":"Телекоммуникации","value":-1.8},
      {"date":"2012-06-15","series":"Телекоммуникации","value":-3.3},
      {"date":"2012-06-17","series":"Телекоммуникации","value":-2.5},
      {"date":"2012-06-18","series":"Телекоммуникации","value":-1.5},
      {"date":"2012-06-20","series":"Телекоммуникации","value":-2.5},
      {"date":"2012-06-22","series":"Телекоммуникации","value":-4.1},
      {"date":"2012-06-24","series":"Телекоммуникации","value":-5.6},
      {"date":"2012-06-26","series":"Телекоммуникации","value":-6.4},
      {"date":"2012-06-28","series":"Телекоммуникации","value":-5.2},
      {"date":"2012-06-29","series":"Телекоммуникации","value":-1.8},
      {"date":"2012-07-01","series":"Телекоммуникации","value":-1.8},
      {"date":"2012-07-03","series":"Телекоммуникации","value":-1.1},
      {"date":"2012-07-04","series":"Телекоммуникации","value":-0.7},
      {"date":"2012-07-05","series":"Телекоммуникации","value":-2.6},
      {"date":"2012-07-07","series":"Телекоммуникации","value":-3.3},
      {"date":"2012-07-10","series":"Телекоммуникации","value":-3.3},
      {"date":"2012-07-12","series":"Телекоммуникации","value":-4.5},
      {"date":"2012-07-13","series":"Телекоммуникации","value":-1.8},
      {"date":"2012-07-15","series":"Телекоммуникации","value":-1.8},
      {"date":"2012-07-18","series":"Телекоммуникации","value":-1.8},
      {"date":"2012-07-19","series":"Телекоммуникации","value":-1.4},
      {"date":"2012-07-21","series":"Телекоммуникации","value":-2.8},
      {"date":"2012-07-23","series":"Телекоммуникации","value":-3.8},
      {"date":"2012-07-24","series":"Телекоммуникации","value":-4.9},
      {"date":"2012-07-26","series":"Телекоммуникации","value":-2.6},
      {"date":"2012-07-27","series":"Телекоммуникации","value":-0.7},
      {"date":"2012-07-30","series":"Телекоммуникации","value":-0.3},
      {"date":"2012-08-02","series":"Телекоммуникации","value":0.4},
      {"date":"2012-08-05","series":"Телекоммуникации","value":1.2},
      {"date":"2012-08-07","series":"Телекоммуникации","value":1.6},
      {"date":"2012-08-09","series":"Телекоммуникации","value":2},
      {"date":"2012-08-10","series":"Телекоммуникации","value":1.6},
      {"date":"2012-08-11","series":"Телекоммуникации","value":1.8},
      {"date":"2012-08-13","series":"Телекоммуникации","value":2.2},
      {"date":"2012-08-14","series":"Телекоммуникации","value":2.8}
    ]
  },
  "mark": {"type": "line", "strokeWidth": 3.5, "strokeJoin": "round", "strokeCap": "round", "clip": false},
  "encoding": {
    "x": {
      "field": "date",
      "type": "temporal",
      "scale": {"domain": [{"year": 2012, "month": 1, "date": 3}, {"year": 2012, "month": 8, "date": 14}]},
      "axis": {
        "values": [
          {"year": 2012, "month": 1, "date": 3}, {"year": 2012, "month": 1, "date": 17}, {"year": 2012, "month": 1, "date": 31},
          {"year": 2012, "month": 2, "date": 14}, {"year": 2012, "month": 2, "date": 28}, {"year": 2012, "month": 3, "date": 13},
          {"year": 2012, "month": 3, "date": 27}, {"year": 2012, "month": 4, "date": 10}, {"year": 2012, "month": 4, "date": 24},
          {"year": 2012, "month": 5, "date": 8}, {"year": 2012, "month": 5, "date": 22}, {"year": 2012, "month": 6, "date": 5},
          {"year": 2012, "month": 6, "date": 19}, {"year": 2012, "month": 7, "date": 3}, {"year": 2012, "month": 7, "date": 17},
          {"year": 2012, "month": 7, "date": 31}, {"year": 2012, "month": 8, "date": 14}
        ],
        "format": "%d.%m.%Y",
        "labelAngle": -90,
        "labelFontSize": 14.5,
        "tickSize": 4,
        "labelPadding": 5,
        "labelOverlap": false,
        "labelBound": false,
        "labelFlush": false
      }
    },
    "y": {
      "field": "value",
      "type": "quantitative",
      "scale": {"domain": [-30, 30], "nice": false, "zero": false},
      "axis": {
        "values": [-30, -20, -10, 0, 10, 20, 30],
        "labelExpr": "datum.value + '%'",
        "labelFontSize": 13,
        "tickSize": 4,
        "labelPadding": 7
      }
    },
    "color": {
      "field": "series",
      "type": "nominal",
      "scale": {
        "domain": ["Финансы", "Металлургия", "Машиностроение", "Нефть и газ", "Энергетика", "Телекоммуникации"],
        "range": ["#000080", "#FF6600", "#FF0000", "#FFFF00", "#800080", "#800000"]
      },
      "legend": {
        "title": null,
        "orient": "none",
        "legendX": 24,
        "legendY": -71,
        "columns": 3,
        "direction": "horizontal",
        "gridAlign": "each",
        "columnPadding": 30,
        "rowPadding": 7,
        "padding": 0,
        "symbolType": "stroke",
        "symbolSize": 484,
        "symbolStrokeWidth": 4,
        "labelFont": "Liberation Sans",
        "labelFontSize": 12,
        "labelColor": "#000000",
        "labelOffset": 1,
        "labelLimit": 200
      }
    }
  }
}
